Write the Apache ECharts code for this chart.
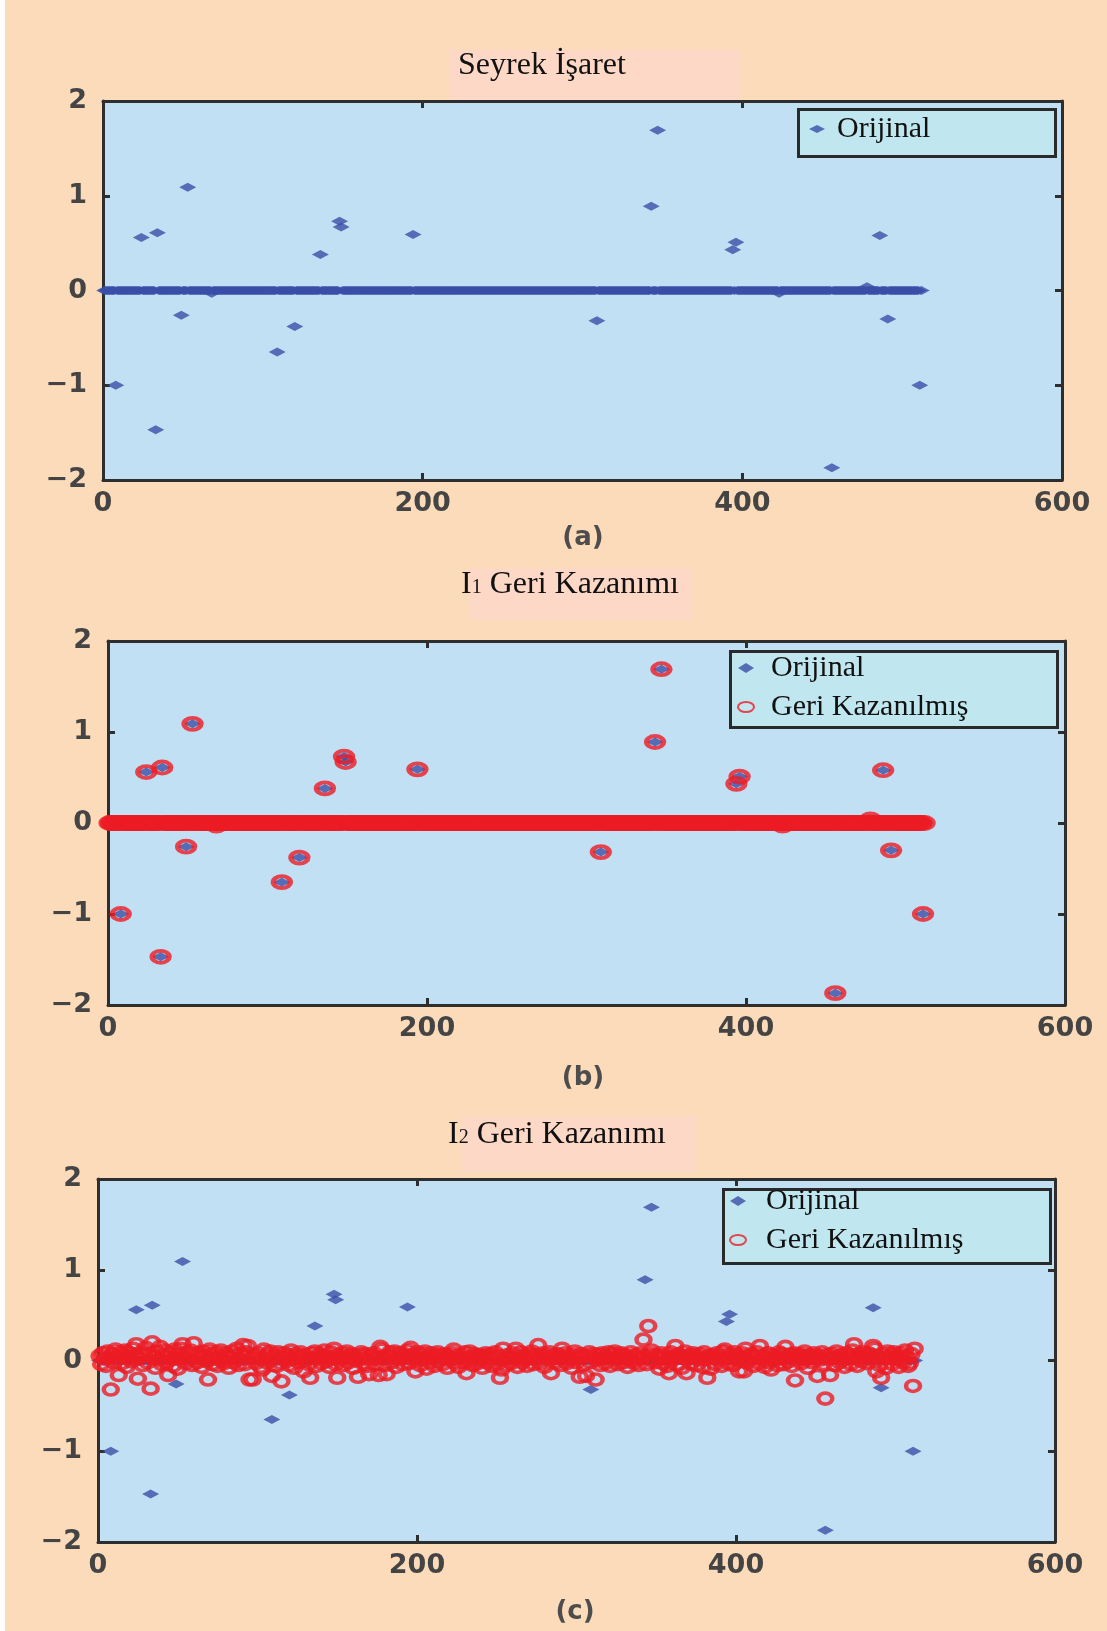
<!DOCTYPE html>
<html>
<head>
<meta charset="utf-8">
<script src="https://cdn.jsdelivr.net/npm/echarts@6/dist/echarts.min.js"></script>
<style>
html,body{margin:0;padding:0;background:#fcdbba;}
#chart{width:1107px;height:1631px;}
</style>
</head>
<body>
<div id="chart"></div>
<script>
// ---------------- DATA ----------------
const N = 512;
const xTicks = [0, 200, 400, 600];
const yTicks = [-2, -1, 0, 1, 2];

// Original sparse signal: non-zero samples (index, value); all other samples are 0
const origIdx = [8, 24, 33, 34, 49, 53, 68, 109, 120, 136, 148, 149, 194, 309, 343, 347, 394, 396, 423, 456, 478, 486, 491, 511];
const origVal = [-1.00, 0.56, -1.47, 0.61, -0.26, 1.09, -0.03, -0.65, -0.38, 0.38, 0.73, 0.67, 0.59, -0.32, 0.89, 1.69, 0.43, 0.51, -0.03, -1.87, 0.04, 0.58, -0.30, -1.00];

// l1 recovery (panel b): non-zero samples
const l1Idx = [8, 24, 33, 34, 49, 53, 68, 109, 120, 136, 148, 149, 194, 309, 343, 347, 394, 396, 423, 456, 478, 486, 491, 511];
const l1Val = [-1.00, 0.56, -1.47, 0.61, -0.26, 1.09, -0.03, -0.65, -0.38, 0.38, 0.73, 0.67, 0.59, -0.32, 0.89, 1.69, 0.43, 0.51, -0.03, -1.87, 0.04, 0.58, -0.30, -1.00];

// l2 recovery (panel c): 512 samples
const l2Val = [
 0.05,-0.04,0.08,0.02,-0.06,0.10,0.03,-0.32,0.07,-0.02,0.12,0.04,-0.16,0.09,-0.03,0.06,
 0.11,-0.07,0.03,0.08,-0.01,0.13,0.05,0.18,-0.20,0.02,0.09,-0.05,0.06,0.14,-0.02,0.07,
 -0.31,0.20,0.04,-0.08,0.10,0.01,0.15,-0.04,0.06,0.11,-0.02,-0.16,0.08,0.03,-0.06,0.12,
 0.02,-0.09,0.07,0.13,0.18,0.04,-0.03,0.09,0.01,0.11,-0.05,0.19,0.06,-0.02,0.08,0.03,
 -0.07,0.10,0.05,-0.01,-0.21,0.12,0.07,-0.04,0.02,0.09,-0.06,0.04,0.11,0.00,-0.03,0.08,
 0.05,-0.08,0.03,0.10,-0.02,0.06,0.13,-0.05,0.01,0.07,0.17,-0.04,0.09,0.16,-0.21,0.03,
 -0.21,0.06,-0.03,0.08,0.02,-0.07,-0.10,0.12,0.04,-0.02,0.07,0.10,-0.17,0.01,0.05,-0.06,
 0.09,-0.03,-0.23,0.04,0.08,-0.01,0.06,-0.05,0.11,0.02,-0.08,0.07,0.03,-0.02,0.09,0.05,
 -0.12,0.06,0.01,-0.04,-0.19,0.08,0.03,0.10,-0.06,0.02,0.07,-0.03,0.05,0.11,-0.01,0.04,
 -0.07,0.09,0.02,0.13,-0.04,-0.19,0.06,0.01,0.08,-0.05,0.03,0.10,-0.02,0.05,0.07,-0.08,
 0.04,0.00,-0.18,0.06,0.09,-0.03,0.02,0.07,-0.06,-0.15,0.05,0.01,0.08,-0.04,0.03,-0.16,
 0.15,0.12,0.02,-0.05,-0.15,0.06,0.09,-0.02,0.04,0.10,-0.07,0.03,0.08,0.01,-0.04,0.07,
 0.05,0.11,-0.03,0.14,0.02,0.06,-0.12,0.09,0.03,-0.05,0.07,0.01,0.10,-0.09,0.04,-0.02,
 0.08,0.03,-0.06,0.05,0.09,-0.01,0.06,-0.04,0.02,0.07,-0.08,0.04,0.01,0.08,0.12,-0.03,
 0.05,-0.07,0.02,0.06,-0.02,0.09,-0.14,0.03,0.10,0.00,-0.05,0.07,0.04,-0.03,0.06,0.01,
 -0.08,0.05,0.08,-0.02,0.03,0.07,-0.06,0.02,0.09,-0.04,0.05,-0.19,-0.10,0.13,0.01,-0.05,
 0.06,0.03,-0.03,0.08,0.02,0.13,-0.07,0.04,0.09,-0.02,0.05,0.01,-0.06,0.07,0.03,0.10,
 -0.04,0.06,0.02,0.17,-0.03,0.05,0.08,-0.07,0.01,0.04,0.09,-0.14,0.03,0.06,-0.02,0.07,
 0.02,-0.05,0.13,0.04,0.08,-0.03,0.05,0.01,-0.08,0.06,0.10,-0.02,0.03,-0.18,0.07,0.04,
 -0.04,-0.17,0.05,0.09,-0.02,0.03,0.07,-0.21,0.01,0.06,-0.05,0.08,0.02,-0.03,0.04,0.09,
 -0.06,0.03,0.07,0.10,0.01,-0.04,0.05,0.08,-0.02,0.06,0.02,-0.07,0.04,0.09,0.00,-0.03,
 0.06,0.03,-0.05,0.08,0.02,0.23,0.05,-0.04,0.38,0.07,0.11,0.01,-0.02,0.06,0.04,-0.09,
 0.08,-0.03,0.05,0.02,-0.06,-0.14,0.09,0.01,0.04,0.16,-0.04,0.07,0.03,-0.08,0.05,0.10,
 -0.14,0.02,0.06,-0.03,0.08,0.04,-0.05,0.01,0.07,0.03,-0.07,0.09,0.02,-0.19,0.05,-0.09,
 0.06,0.03,-0.04,0.08,0.01,0.05,-0.06,0.10,0.12,0.02,-0.03,0.07,0.04,-0.05,0.09,0.01,
 0.06,-0.12,0.03,0.08,-0.12,0.13,-0.02,0.05,0.01,0.07,-0.06,0.04,0.09,-0.03,0.16,0.02,
 0.05,-0.07,0.03,0.08,-0.02,-0.10,0.06,0.01,0.04,-0.05,0.09,0.02,0.07,-0.04,0.15,0.03,
 -0.01,0.06,-0.06,0.08,-0.22,0.04,0.02,0.07,-0.03,0.05,0.10,0.01,-0.08,0.06,0.03,-0.02,
 0.08,0.04,-0.17,0.05,0.01,0.09,-0.04,-0.42,0.06,0.02,-0.16,0.07,0.03,-0.05,0.10,0.04,
 -0.02,0.06,0.01,-0.07,0.08,0.03,0.05,-0.04,0.11,0.18,0.02,-0.06,0.07,0.04,-0.01,0.09,
 0.05,-0.03,0.08,0.02,0.06,0.16,0.13,-0.12,0.04,-0.05,-0.19,0.07,0.02,-0.08,0.10,0.03,
 0.06,-0.04,0.09,0.01,0.05,-0.07,0.08,0.03,-0.02,0.11,0.04,-0.06,-0.03,0.07,-0.28,0.13
];

const titles = ['Seyrek İşaret', '{n|I}{s|1}{n| Geri Kazanımı}', '{n|I}{s|2}{n| Geri Kazanımı}'];
const panelLabels = ['(a)', '(b)', '(c)'];
const nameOrig = 'Orijinal';
const nameRec = 'Geri Kazanılmış';

// ---------------- BUILD ----------------
function sparseToSeries(idx, val) {
  const arr = [];
  for (let i = 1; i <= N; i++) arr.push([i, 0]);
  idx.forEach((k, j) => { arr[k - 1][1] = val[j]; });
  return arr;
}
const origData = sparseToSeries(origIdx, origVal);
const l1Data = sparseToSeries(l1Idx, l1Val);
const l2Data = l2Val.map((v, i) => [i + 1, v]);

const BLUE = '#3a4fa8';
const RED = '#ec1c24';
const AXIS = '#2e2e2e';
const ELLIPSE = 'path://M0,5A5,5 0 1,0 10,5A5,5 0 1,0 0,5Z';

const grids = [
  {left: 103, top: 101, width: 959, height: 379},
  {left: 108, top: 641, width: 957, height: 364},
  {left: 98, top: 1179, width: 957, height: 363}
].map(g => Object.assign(g, {show: true, backgroundColor: '#c2e0f4', borderWidth: 0}));

const labelFont = {color: '#444444', fontFamily: 'DejaVu Sans', fontWeight: 'bold', fontSize: 27};
const minusFmt = v => (v < 0 ? '\u2212' + Math.abs(v) : String(v));

const xAxes = [], yAxes = [];
grids.forEach((g, i) => {
  const base = {
    type: 'value', gridIndex: i, min: xTicks[0], max: xTicks[xTicks.length - 1],
    interval: xTicks[1] - xTicks[0],
    splitLine: {show: false},
    axisLine: {show: true, onZero: false, lineStyle: {color: AXIS, width: 3}},
    axisTick: {show: true, inside: true, length: 7, lineStyle: {color: AXIS, width: 3}}
  };
  xAxes.push(Object.assign({}, base, {position: 'bottom',
    axisLabel: Object.assign({margin: 10, formatter: minusFmt}, labelFont)}));
  xAxes.push(Object.assign({}, base, {position: 'top', axisLabel: {show: false}}));
  const ybase = {
    type: 'value', gridIndex: i, min: yTicks[0], max: yTicks[yTicks.length - 1],
    interval: yTicks[1] - yTicks[0],
    splitLine: {show: false},
    axisLine: {show: true, onZero: false, lineStyle: {color: AXIS, width: 3}},
    axisTick: {show: true, inside: true, length: 7, lineStyle: {color: AXIS, width: 3}}
  };
  yAxes.push(Object.assign({}, ybase, {position: 'left',
    axisLabel: Object.assign({margin: 16, formatter: minusFmt}, labelFont)}));
  yAxes.push(Object.assign({}, ybase, {position: 'right', axisLabel: {show: false}}));
});

function origSeries(i) {
  return {
    type: 'scatter', name: nameOrig, xAxisIndex: 2 * i, yAxisIndex: 2 * i,
    data: origData, symbol: 'diamond', symbolSize: [17, 9],
    itemStyle: {color: BLUE}, silent: true, z: 2
  };
}
function recSeries(i, data, size, bw) {
  return {
    type: 'scatter', name: nameRec, xAxisIndex: 2 * i, yAxisIndex: 2 * i,
    data: data, symbol: ELLIPSE, symbolSize: size, symbolKeepAspect: false,
    itemStyle: {color: 'rgba(0,0,0,0)', borderColor: RED, borderWidth: bw},
    silent: true, z: 3
  };
}

const serif = 'Liberation Serif';
const richTitle = {
  n: {fontFamily: serif, fontSize: 32, color: '#111', verticalAlign: 'bottom', lineHeight: 38},
  s: {fontFamily: serif, fontSize: 20, color: '#111', verticalAlign: 'bottom', lineHeight: 38, padding: [0, 0, 3, 0]}
};
const titlePos = [[542, 50], [570, 563], [557, 1113]];
const labelPos = [[583, 525], [583, 1065], [575, 1599]];
const titleList = [];
titles.forEach((t, i) => {
  titleList.push({text: t, left: titlePos[i][0], top: titlePos[i][1], textAlign: 'center', padding: 0,
    textStyle: {fontFamily: serif, fontSize: 32, fontWeight: 'normal', color: '#111', rich: richTitle}});
});
panelLabels.forEach((t, i) => {
  titleList.push({text: t, left: labelPos[i][0], top: labelPos[i][1], textAlign: 'center', padding: 0,
    textStyle: {fontFamily: 'DejaVu Sans', fontWeight: 'bold', fontSize: 26, color: '#4d4d4d'}});
});

const legendText = {fontFamily: serif, fontSize: 30, color: '#111', lineHeight: 30};
const legends = [
  {data: [nameOrig], left: 809, top: 114, padTxt: 7, w: 16, h: 8},
  {data: [nameOrig, nameRec], left: 737, top: 653, padTxt: 12, w: 16, h: 10},
  {data: [nameOrig, nameRec], left: 729, top: 1186, padTxt: 15, w: 16, h: 10}
].map(l => ({
  data: l.data, left: l.left, top: l.top, orient: 'vertical', itemGap: 9, padding: 0,
  itemWidth: l.w, itemHeight: l.h, symbolKeepAspect: false, selectedMode: false,
  textStyle: Object.assign({padding: [0, 0, 0, l.padTxt]}, legendText), z: 6
}));

const boxes = [
  {x: 797, y: 108, w: 257, h: 47},
  {x: 729, y: 650, w: 327, h: 76},
  {x: 722, y: 1188, w: 327, h: 74}
];
const pinks = [
  {x: 450, y: 50, w: 290, h: 50},
  {x: 470, y: 568, w: 222, h: 52},
  {x: 462, y: 1116, w: 233, h: 56}
];
const graphics = [
  {type: 'rect', left: 0, top: 0, z: 0, shape: {width: 5, height: 1631}, style: {fill: '#ffffff'}}
];
pinks.forEach(p => graphics.push({type: 'rect', left: p.x, top: p.y, z: 0, silent: true,
  shape: {width: p.w, height: p.h}, style: {fill: '#fdd8c6'}}));
boxes.forEach(b => graphics.push({type: 'rect', left: b.x, top: b.y, z: 5, silent: true,
  shape: {width: b.w, height: b.h}, style: {fill: '#c0e6ef', stroke: '#2a2a2a', lineWidth: 3}}));

const option = {
  animation: false,
  backgroundColor: '#fcdbba',
  title: titleList,
  grid: grids,
  xAxis: xAxes,
  yAxis: yAxes,
  legend: legends,
  graphic: graphics,
  series: [
    origSeries(0),
    origSeries(1), recSeries(1, l1Data, [17, 12], 4.5),
    origSeries(2), recSeries(2, l2Data, [14, 11], 4)
  ]
};

const chart = echarts.init(document.getElementById('chart'), null, {renderer: 'canvas'});
chart.setOption(option);
</script>
</body>
</html>
